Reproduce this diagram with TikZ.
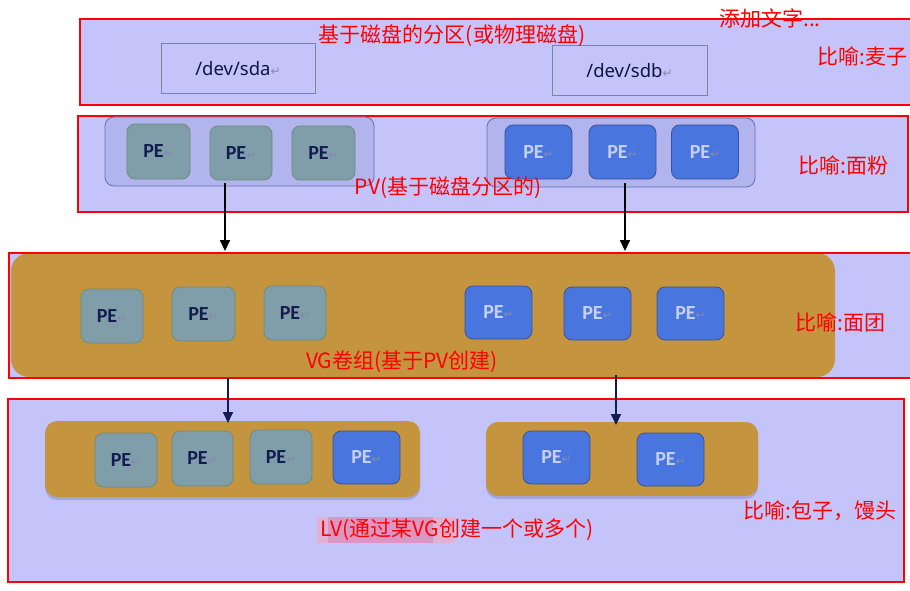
\documentclass[tikz,border=0pt]{standalone}
\usepackage{fontspec}
\setmainfont{Noto Sans}
\newfontfamily\cjk{Noto Sans CJK SC}
\newfontfamily\pefont{Carlito}
\newfontfamily\symfont{DejaVu Sans}
\usetikzlibrary{arrows.meta,shadows}
\definecolor{lav}{RGB}{196,196,250}
\definecolor{lavd}{RGB}{178,180,238}
\definecolor{lavb}{RGB}{100,112,180}
\definecolor{gold}{RGB}{196,148,62}
\definecolor{peg}{RGB}{128,158,170}
\definecolor{pegb}{RGB}{110,140,120}
\definecolor{peb}{RGB}{72,118,222}
\definecolor{pebb}{RGB}{60,80,150}
\definecolor{pedark}{RGB}{18,28,80}
\definecolor{pelight}{RGB}{200,208,240}
\definecolor{retgray}{RGB}{135,135,175}
\definecolor{devb}{RGB}{120,138,145}
\definecolor{redline}{RGB}{255,0,0}
\definecolor{hlA}{RGB}{226,176,210}
\definecolor{hlB}{RGB}{220,150,195}
\tikzset{
  band/.style={draw=redline,line width=2.8pt,fill=lav},
  pvbox/.style={draw=lavb,fill=lavd,rounded corners=9pt,line width=0.8pt},
  devbox/.style={draw=devb,fill=lav,line width=1pt,font=\fontsize{18.5}{20}\selectfont,text=pedark!80!black},
  goldbox/.style={fill=gold,rounded corners=18pt},
  lvbox/.style={fill=gold,rounded corners=12pt,drop shadow={shadow xshift=0pt,shadow yshift=-3pt,fill=lavb,opacity=0.35}},
  pegr/.style={draw=pegb,fill=peg,rounded corners=8pt,line width=0.8pt,text=pedark},
  pebl/.style={draw=pebb,fill=peb,rounded corners=8pt,line width=0.8pt,text=pelight},
  redtxt/.style={text=redline,font=\cjk\fontsize{21}{24}\selectfont,inner sep=0pt},
  arr/.style={line width=1.8pt,-{Triangle[length=11pt,width=10pt]}},
}
\newcommand{\retsym}{{\symfont\fontsize{12}{12}\selectfont\color{retgray}↵}}
\newcommand{\petxt}{{\pefont\bfseries\fontsize{20}{20}\selectfont PE}\retsym}
\begin{document}
\begin{tikzpicture}[x=1pt,y=-1pt]
\useasboundingbox (0,0) rectangle (910,591);
\fill[white] (0,0) rectangle (910,591);
% bands
\draw[band] (80,19) rectangle (912,105);
\draw[band] (78,116) rectangle (908,212);
\fill[lav] (9,253) rectangle (912,378);
\node[goldbox,minimum width=824pt,minimum height=124pt,inner sep=0pt] (vg) at (423,315) {};
\draw[draw=redline,line width=2.8pt] (9,253) rectangle (912,378);
\draw[band] (8,399) rectangle (904,582);

% band 1
\node[devbox,minimum width=154pt,minimum height=50pt] (sda) at (238,69) {/dev/sda\retsym};
\node[devbox,minimum width=155pt,minimum height=50pt] (sdb) at (629.5,71) {/dev/sdb\retsym};
\node[redtxt] (t1) at (452,36) {基于磁盘的分区(或物理磁盘)};
\node[redtxt] (t0) at (770,18) {添加文字...};
\node[redtxt,anchor=west] (m1) at (817,56) {比喻:麦子};

% band 2 PV
\node[pvbox,minimum width=269pt,minimum height=69pt] (pvl) at (239.5,151.5) {};
\node[pvbox,minimum width=268pt,minimum height=69pt] (pvr) at (621,152.5) {};
\node[pegr,minimum width=63pt,minimum height=55pt] (pv1) at (158.5,151.5) {\petxt};
\node[pegr,minimum width=62pt,minimum height=54pt] (pv2) at (241,153) {\petxt};
\node[pegr,minimum width=63pt,minimum height=54pt] (pv3) at (323.5,153) {\petxt};
\node[pebl,minimum width=67pt,minimum height=54pt] (pv4) at (538.5,152) {\petxt};
\node[pebl,minimum width=67pt,minimum height=54pt] (pv5) at (622.5,152) {\petxt};
\node[pebl,minimum width=67pt,minimum height=54pt] (pv6) at (705,152) {\petxt};
\node[redtxt] (t2) at (448,188) {PV(基于磁盘分区的)};
\node[redtxt,anchor=west] (m2) at (798,165) {比喻:面粉};

% band 3 VG
\node[pegr,minimum width=62pt,minimum height=54pt] (vg1) at (112,316) {\petxt};
\node[pegr,minimum width=63pt,minimum height=54pt] (vg2) at (203.5,314) {\petxt};
\node[pegr,minimum width=62pt,minimum height=54pt] (vg3) at (295,313) {\petxt};
\node[pebl,minimum width=67pt,minimum height=53pt] (vg4) at (498.5,312.5) {\petxt};
\node[pebl,minimum width=67pt,minimum height=53pt] (vg5) at (597.5,313.5) {\petxt};
\node[pebl,minimum width=67pt,minimum height=53pt] (vg6) at (690.5,313.5) {\petxt};
\node[redtxt] (t3) at (402,362) {VG卷组(基于PV创建)};
\node[redtxt,anchor=west] (m3) at (795,322) {比喻:面团};

% band 4 LV
\node[lvbox,minimum width=375pt,minimum height=76pt] (lvl) at (232.5,459) {};
\node[lvbox,minimum width=272pt,minimum height=74pt] (lvr) at (622,459) {};
\node[pegr,minimum width=62pt,minimum height=54pt] (lv1) at (126,460) {\petxt};
\node[pegr,minimum width=61pt,minimum height=55pt] (lv2) at (202.5,458.5) {\petxt};
\node[pegr,minimum width=62pt,minimum height=54pt] (lv3) at (281,457) {\petxt};
\node[pebl,minimum width=67pt,minimum height=53pt] (lv4) at (366.5,457.5) {\petxt};
\node[pebl,minimum width=67pt,minimum height=53pt] (lv5) at (556.5,457.5) {\petxt};
\node[pebl,minimum width=67pt,minimum height=53pt] (lv6) at (670.5,459.5) {\petxt};
\fill[hlA] (317,517) rectangle (455,543);
\fill[hlB] (328,517) rectangle (433,543);
\node[redtxt] (t4) at (457,530) {LV(通过某VG创建一个或多个)};
\node[redtxt,anchor=west] (m4) at (743,511) {比喻:包子，馒头};

% arrows
\coordinate (a1) at (225,183);
\coordinate (a1e) at (225,251);
\coordinate (a2) at (625,183);
\coordinate (a2e) at (625,251);
\coordinate (b1) at (228,378);
\coordinate (b1e) at (228,423);
\coordinate (b2) at (616,375);
\coordinate (b2e) at (616,425);
\draw[arr,black] (a1) -- (a1e);
\draw[arr,black] (a2) -- (a2e);
\draw[arr,pedark] (b1) -- (b1e);
\draw[arr,pedark] (b2) -- (b2e);
\end{tikzpicture}
\end{document}
